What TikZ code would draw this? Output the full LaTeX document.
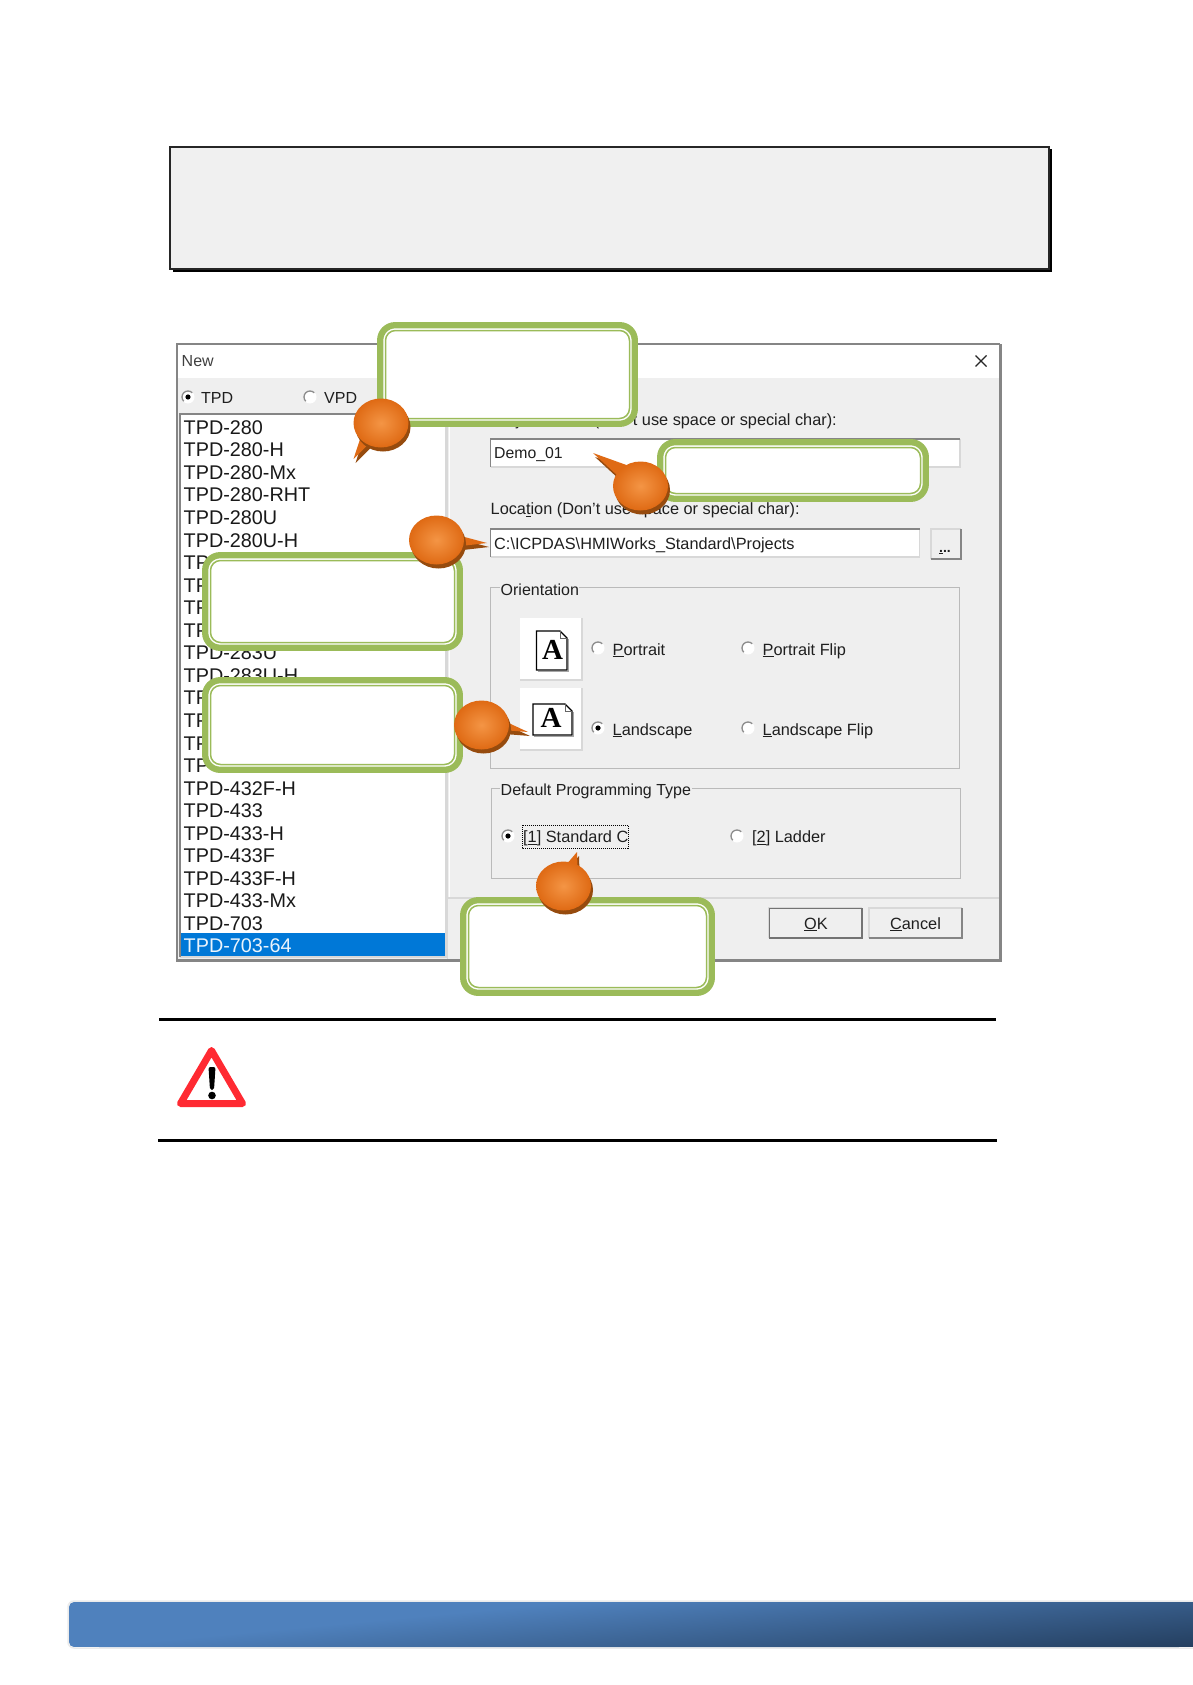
\documentclass[tikz,border=0pt]{standalone}
\usepackage{fontspec}
\setmainfont{Liberation Sans}
\newfontfamily\iconfont{Liberation Serif}
\usepackage{xcolor}
\usepackage{tikz}

\definecolor{panelgrey}{HTML}{EFEFEF}
\definecolor{notegrey}{HTML}{F0F0F0}
\definecolor{edgedark}{HTML}{858585}
\definecolor{edgelight}{HTML}{D8D8D8}
\definecolor{greenbox}{HTML}{9BBB59}
\definecolor{selblue}{HTML}{0078D7}
\definecolor{bubblelight}{HTML}{F49545}
\definecolor{bubbleouter}{HTML}{DF6A14}
\definecolor{bubbledark}{HTML}{964B0E}
\definecolor{warnred}{HTML}{FF2A32}
\definecolor{barblue}{HTML}{4F81BD}
\definecolor{bardark}{HTML}{254061}

\tikzset{
  dlgtext/.style={anchor=base west,inner sep=0pt,text=black!88,font=\fontsize{16.3}{18}\selectfont},
  listtext/.style={anchor=base west,inner sep=0pt,text=black!90,font=\fontsize{19.8}{22}\selectfont},
  grouplabel/.style={dlgtext,fill=panelgrey,inner xsep=0.5pt,inner ysep=1pt,font=\fontsize{16}{18}\selectfont},
  groupline/.style={draw=black!27,line width=1pt},
  iconletter/.style={anchor=base,inner sep=0pt,font=\iconfont\bfseries\fontsize{29}{30}\selectfont},
  thickgreen/.style={draw=greenbox,fill=white,line width=6.3pt,rounded corners=15pt},
  thingreen/.style={draw=greenbox,line width=1.5pt,rounded corners=10pt}
}

% sunken field: x1 y1 x2 y2
\newcommand{\sunkenbox}[4]{
  \fill[white] (#1,#2) rectangle (#3,#4);
  \draw[edgelight,line width=1.2pt] (#3,#2) -- (#3,#4) -- (#1,#4);
  \draw[edgedark,line width=1.6pt] (#1,#4) -- (#1,#2) -- (#3,#2);
}
% raised button: x1 y1 x2 y2 and lower edge colour
\newcommand{\raisedbox}[5]{
  \fill[panelgrey] (#1,#2) rectangle (#3,#4);
  \draw[edgelight,line width=1.2pt] (#1,#4) -- (#1,#2) -- (#3,#2);
  \draw[#5,line width=1.8pt] (#3,#2) -- (#3,#4) -- (#1,#4);
}
\newcommand{\radiobtn}[2]{
  \fill[white] (#1,#2) circle [radius=6.5];
  \draw[black!45,line width=1.3pt] (#1,#2) ++(135:6) arc [start angle=135,end angle=315,radius=6];
}
\newcommand{\radiodot}[2]{
  \fill[black] (#1,#2) circle [radius=2.6];
}
% sheet of paper with folded corner: x1 y1 x2 y2
\newcommand{\pageicon}[4]{
  \draw[black!35,line width=1.2pt] (#3+1.5,#2+8) -- (#3+1.5,#4+1.5) -- (#1+1,#4+1.5);
  \draw[fill=white,draw=black,line width=1.2pt] (#1,#2) -- (#3-7,#2) -- (#3,#2+7) -- (#3,#4) -- (#1,#4) -- cycle;
  \draw[black!60,line width=0.8pt] (#3-7,#2) -- (#3-7,#2+7) -- (#3,#2+7);
}

\begin{document}
\begin{tikzpicture}[x=1pt,y=-1pt]
\useasboundingbox (0,0) rectangle (1192,1685);

% note box on top
\fill[black] (172.5,149.5) rectangle (1051.5,272);
\draw[fill=notegrey,draw=black!85,line width=2pt] (170,147) rectangle (1049,269);

% dialog window
\fill[white] (177,344) rectangle (1000,378);
\fill[panelgrey] (177,378) rectangle (1000,960);
\draw[edgedark,line width=2pt] (177,961) -- (177,344) -- (1000,344);
\draw[edgedark,line width=3pt] (1000,344) -- (1000,961);
\draw[edgedark,line width=3pt] (1001.5,960.5) -- (176,960.5);
\node[dlgtext,text=black!75,font=\fontsize{16}{18}\selectfont] (title) at (181.5,366) {New};
\draw[black!85,line width=1.2pt] (975.5,355.5) -- (986.5,366.5) (986.5,355.5) -- (975.5,366.5);

\radiobtn{188}{397} \radiodot{188}{397}
\radiobtn{310}{397}
\node[dlgtext,font=\fontsize{16}{18}\selectfont] (tpd) at (201,403) {TPD};
\node[dlgtext,font=\fontsize{16}{18}\selectfont] (vpd) at (324,403) {VPD};

% list of models
\sunkenbox{180}{414}{446}{957}
\draw[white,line width=1.5pt] (449.5,378) -- (449.5,897);
\draw[edgelight,line width=1.2pt] (447.8,378) -- (447.8,959);
\fill[selblue] (181,933) rectangle (445,956);
\foreach \itemname [count=\i from 0] in {TPD-280,TPD-280-H,TPD-280-Mx,TPD-280-RHT,TPD-280U,TPD-280U-H,TP,TP,TP,TP,TPD-283U,TPD-283U-H,TP,TP,TP,TP,TPD-432F-H,TPD-433,TPD-433-H,TPD-433F,TPD-433F-H,TPD-433-Mx,TPD-703}{
  \node[listtext] (item\i) at (183.5,{434.3+\i*22.55}) {\itemname};
}
\node[listtext,text=white!92!selblue] (itemsel) at (183.5,952.9) {TPD-703-64};

% project and location
\node[dlgtext] (prjlabel) at (490.5,425) {Project \underline{N}ame (Don't use space or special char):};
\sunkenbox{490.5}{439}{960}{467}
\node[dlgtext,font=\fontsize{15.8}{18}\selectfont] (prjname) at (494,458) {Demo\_01};
\node[dlgtext] (loclabel) at (490.5,514.5) {Loca\underline{t}ion (Don't use space or special char):};
\sunkenbox{490.5}{529}{919.5}{557}
\node[dlgtext] (locname) at (494,549) {C:\textbackslash ICPDAS\textbackslash HMIWorks\_Standard\textbackslash Projects};
\raisedbox{931}{529}{961}{559}{edgedark}
\node[dlgtext,font=\bfseries\fontsize{14}{16}\selectfont] (browse) at (939,552) {\underline{.}..};

% orientation group
\draw[groupline] (490.5,587) rectangle (959,768);
\node[grouplabel] (orilabel) at (500,595) {Orientation};
\fill[white] (520,618) rectangle (582,680);
\draw[edgelight,line width=1.2pt] (582,618) -- (582,680) -- (520,680);
\pageicon{536.5}{631}{567}{670}
\node[iconletter] (portA) at (552.5,659.5) {A};
\fill[white] (520,688) rectangle (582,750);
\draw[edgelight,line width=1.2pt] (582,688) -- (582,750) -- (520,750);
\pageicon{533}{704}{572}{735}
\node[iconletter] (landA) at (551,727.5) {A};

\radiobtn{598}{648}
\radiobtn{748}{648}
\radiobtn{598}{728} \radiodot{598}{728}
\radiobtn{748}{728}
\node[dlgtext] (portrait) at (612.5,655) {\underline{P}ortrait};
\node[dlgtext] (portflip) at (762.5,655) {\underline{P}ortrait Flip};
\node[dlgtext] (landscape) at (612.5,735) {\underline{L}andscape};
\node[dlgtext] (landflip) at (762.5,735) {\underline{L}andscape Flip};

% programming type group
\draw[groupline] (491,788) rectangle (960,878);
\node[grouplabel] (typelabel) at (500,795) {Default Programming Type};
\radiobtn{508}{836} \radiodot{508}{836}
\radiobtn{737}{836}
\node[dlgtext] (stdc) at (523,842.5) {[\underline{1}] Standard C};
\draw[black,densely dotted,line width=1pt] (522,825) rectangle (628,848);
\node[dlgtext] (ladder) at (752,842.5) {[\underline{2}] Ladder};

% buttons
\draw[edgelight,line width=1.2pt] (448,898) -- (999,898);
\raisedbox{769}{908}{862}{938}{black!55}
\draw[black!55,line width=1pt] (769,938) -- (769,908) -- (862,908);
\raisedbox{869}{908}{962}{938}{edgedark}
\node[dlgtext,anchor=base] (okbtn) at (816,929) {\underline{O}K};
\node[dlgtext,anchor=base] (cancelbtn) at (915.5,929) {\underline{C}ancel};

% green callout frames
\foreach \xa/\ya/\xb/\yb in {377/322/638/427,202/552/463/651,202/677/463/773,657/439/929/502,460/897/715/996}{
  \draw[thickgreen] (\xa+3.2,\ya+3.2) rectangle (\xb-3.2,\yb-3.2);
  \draw[thingreen] (\xa+8.5,\ya+8.5) rectangle (\xb-8.5,\yb-8.5);
}

% orange bubbles: centre, tail tip, tail base angles
\foreach \bx/\by/\tx/\ty/\aa/\ab in {381/423/-27.5/36/118/140,640.5/486/-47.5/-33/208/240,436.5/540/50.5/3/-8/14,481.5/725/46.5/7/-5/13,563.5/886/13.5/-34/-80/-59}{
  \begin{scope}[shift={(\bx,\by)}]
    \fill[bubbledark,shift={(2,4)}] (\aa:27 and 24) -- (\tx,\ty) -- (\ab:27 and 24) -- cycle;
    \fill[bubbleouter] (\aa:27 and 24) -- (\tx,\ty) -- (\ab:27 and 24) -- cycle;
    \fill[bubbledark] (2,4) ellipse [x radius=27.5,y radius=24.5];
    \shade[inner color=bubblelight,outer color=bubbleouter] (0,0) ellipse [x radius=27.5,y radius=24.5];
  \end{scope}
}

% warning block
\draw[black,line width=3pt] (159,1019) -- (996,1019);
\draw[black,line width=3pt] (158,1140.5) -- (997,1140.5);
\draw[warnred,fill=white,line width=7pt,line join=round] (211.5,1050.5) -- (242.5,1103.5) -- (180.5,1103.5) -- cycle;
\fill[black,rounded corners=2pt] (208.5,1067) -- (215.5,1067) -- (214,1090) -- (210,1090) -- cycle;
\fill[black] (212,1095.5) circle [radius=3.8];

% bar at the page bottom, slanted gradient built row by row
\draw[black!8,line width=1.5pt,rounded corners=6pt] (68,1601) rectangle (1205,1648);
\begin{scope}
\clip[rounded corners=5pt] (69,1602) rectangle (1205,1647);
\fill[barblue] (69,1602) rectangle (1205,1647);
\foreach \row in {0,...,44}{
  \shade[left color=barblue,right color=bardark] ({570-\row*10.7},{1602+\row}) rectangle ({1650-\row*10.7},{1603.4+\row});
  \fill[bardark] ({1649.5-\row*10.7},{1602+\row}) rectangle (1205,{1603.4+\row});
}
\end{scope}
\end{tikzpicture}
\end{document}
